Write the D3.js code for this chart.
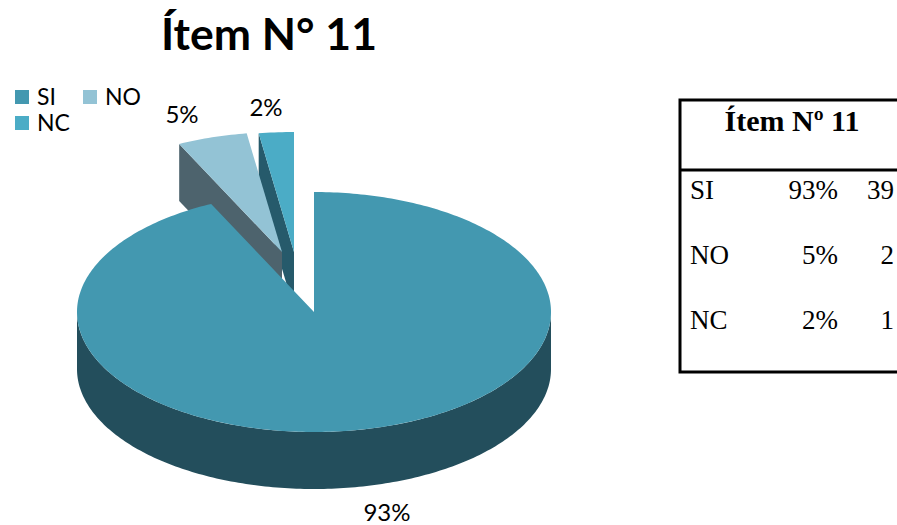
<!DOCTYPE html>
<html>
<head>
<meta charset="utf-8">
<script src="https://d3js.org/d3.v7.min.js"></script>
<style>
html, body { margin: 0; padding: 0; background: #fff; overflow: hidden; }
.sans { font-family: Lato, "Open Sans", sans-serif; fill: #000; }
.serif { font-family: "Liberation Serif", serif; fill: #000; }
</style>
</head>
<body>
<svg width="897" height="525"></svg>
<script>
// Data
const categories = ["SI", "NO", "NC"]
const counts = [39, 2, 1]
const percentLabels = ["93%", "5%", "2%"]
const topColors = ["#4398b0", "#93c3d5", "#4bacc6"]
const sideColors = ["#234e5c", "#4d636d", "#265a6b"]

const svg = d3.select("svg")

// Pie geometry
const cx = 314, cy = 312, rx = 237, ry = 120, depth = 57
const explode = [[0, 0], [-32, -60], [-20, -60]]
const labelPos = [[387, 521], [182, 123], [266, 116]]

const xScale = d3.scaleLinear().domain([-1, 1]).range([-rx, rx])
const yScale = d3.scaleLinear().domain([-1, 1]).range([-ry, ry])

const pie = d3.pie().sort(null).startAngle(0).endAngle(2 * Math.PI)
const slices = pie(counts)

const line = d3.line().x(d => d[0]).y(d => d[1])

function pt(a, r = 1) {
    return [xScale(r * Math.sin(a)), yScale(-r * Math.cos(a))]
}
function arcPts(a0, a1) {
    const n = Math.max(2, Math.ceil((a1 - a0) * 60))
    return d3.range(n + 1).map(i => pt(a0 + (a1 - a0) * i / n))
}
function shift(pts, dy) {
    return pts.map(p => [p[0], p[1] + dy])
}

// draw order: back slices first, big slice last
const order = [2, 1, 0]
order.forEach(i => {
    const s = slices[i]
    const g = svg.append("g")
        .attr("transform", `translate(${cx + explode[i][0]},${cy + explode[i][1]})`)

    if (i === 0) {
        // outer wall, bottom half of the ellipse
        const a0 = Math.PI / 2, a1 = 3 * Math.PI / 2
        const edge = arcPts(a0, a1)
        g.append("path")
            .attr("d", line(edge.concat(shift(edge, depth).reverse())) + "Z")
            .attr("fill", sideColors[i])
    } else {
        // cut face on the left side of the slice
        const outer = pt(s.startAngle)
        const face = [[0, 0], outer, [outer[0], outer[1] + depth], [0, depth]]
        g.append("path")
            .attr("d", line(face) + "Z")
            .attr("fill", sideColors[i])
    }

    g.append("path")
        .attr("d", line([[0, 0]].concat(arcPts(s.startAngle, s.endAngle))) + "Z")
        .attr("fill", topColors[i])
})

// Percent labels
svg.selectAll(".pct").data(percentLabels).enter().append("text")
    .attr("class", "sans")
    .attr("text-anchor", "middle")
    .attr("x", (d, i) => labelPos[i][0])
    .attr("y", (d, i) => labelPos[i][1])
    .attr("font-size", 24)
    .text(d => d)

// Title
svg.append("text")
    .attr("class", "sans")
    .attr("x", 269).attr("y", 50)
    .attr("text-anchor", "middle")
    .attr("font-size", 44.5)
    .attr("font-weight", 700)
    .text("Ítem N° 11")

// Legend
const legendPos = [[15, 90], [83, 90], [15, 116]]
categories.forEach((c, i) => {
    svg.append("rect")
        .attr("x", legendPos[i][0]).attr("y", legendPos[i][1])
        .attr("width", 14).attr("height", 14)
        .attr("fill", topColors[i])
    svg.append("text")
        .attr("class", "sans")
        .attr("x", legendPos[i][0] + 22).attr("y", legendPos[i][1] + 15)
        .attr("font-size", 23)
        .text(c)
})

// Table
const tableX = 680, tableTop = 100, tableHead = 170, tableBottom = 372
const rowY = d3.scalePoint().domain(categories).range([199, 329])

const tbl = svg.append("g")
tbl.append("path")
    .attr("d", `M897,${tableTop}H${tableX}V${tableBottom}H897M${tableX},${tableHead}H897`)
    .attr("fill", "none")
    .attr("stroke", "#000")
    .attr("stroke-width", 3)

tbl.append("text")
    .attr("class", "serif")
    .attr("x", 792).attr("y", 131)
    .attr("text-anchor", "middle")
    .attr("font-size", 30)
    .attr("font-weight", 700)
    .text("Ítem Nº 11")

categories.forEach((c, i) => {
    const y = rowY(c)
    tbl.append("text").attr("class", "serif")
        .attr("x", 690).attr("y", y).attr("font-size", 27).text(c)
    tbl.append("text").attr("class", "serif")
        .attr("x", 838).attr("y", y).attr("font-size", 27)
        .attr("text-anchor", "end").text(percentLabels[i])
    tbl.append("text").attr("class", "serif")
        .attr("x", 894).attr("y", y).attr("font-size", 27)
        .attr("text-anchor", "end").text(counts[i])
})
</script>
</body>
</html>
